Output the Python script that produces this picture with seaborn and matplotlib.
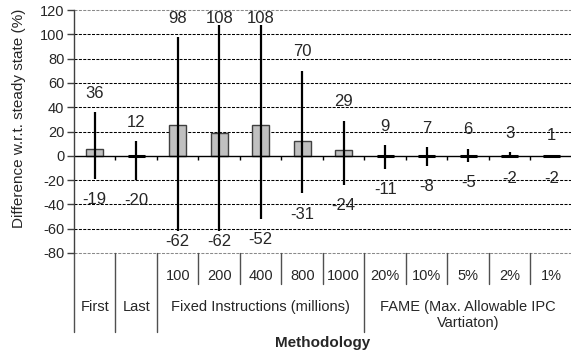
import matplotlib
matplotlib.use("Agg")
import matplotlib.pyplot as plt
import matplotlib.transforms as mtransforms
import numpy as np
import pandas as pd
import seaborn as sns

# Methodology columns (lower row) and their groups (upper row)
categories = ["First", "Last", "100", "200", "400", "800", "1000",
              "20%", "10%", "5%", "2%", "1%"]
column_labels = ["", "", "100", "200", "400", "800", "1000",
                 "20%", "10%", "5%", "2%", "1%"]
groups = ["First", "Last", "Fixed Instructions (millions)",
          "FAME (Max. Allowable IPC\nVartiaton)"]
group_sizes = [1, 1, 5, 5]

# Average, maximum and minimum difference w.r.t. steady state (%)
mean_diff = [6, 0, 25, 19, 25, 12, 5, 0, 0, 0, 0, 0]
max_diff = [36, 12, 98, 108, 108, 70, 29, 9, 7, 6, 3, 1]
min_diff = [-19, -20, -62, -62, -52, -31, -24, -11, -8, -5, -2, -2]

yticks = [-80, -60, -40, -20, 0, 20, 40, 60, 80, 100, 120]

sns.set_style("white")
plt.rcParams["font.family"] = ["Liberation Sans", "DejaVu Sans"]

W, H = 571, 352
fig = plt.figure(figsize=(W / 100, H / 100), dpi=100)
ax = fig.add_axes([74 / W, 1 - 253 / H, 498 / W, 243 / H])

BAR_W = 0.41
df = pd.DataFrame({"method": categories, "diff": mean_diff})
sns.barplot(data=df, x="method", y="diff", order=categories, ax=ax,
            color="#c0c0c0", saturation=1, width=BAR_W, errorbar=None,
            edgecolor="#404040", linewidth=1.0, zorder=2)

n = len(categories)
xpos = np.arange(n)
ax.set_xlim(-0.5, n - 0.5)
ax.set_ylim(-80, 120)

# Dashed horizontal grid, gray dashed frame at top and bottom
for y in yticks:
    if y == 0:
        continue
    edge = y in (yticks[0], yticks[-1])
    ax.axhline(y, color="#8a8a8a" if edge else "black", lw=0.75,
               linestyle=(0, (2.9, 1.3)), zorder=0.5, clip_on=False)
ax.axhline(0, color="black", lw=1.0, zorder=2.5)

# Small ticks under the zero line at the column boundaries
ax.vlines(xpos[1:] - 0.5, -3.5, 0, color="black", lw=1.0, zorder=2.5)

# Flat bars show up as a heavier dash on the zero line
flat = np.array(mean_diff) == 0
ax.hlines(np.array(mean_diff)[flat], xpos[flat] - BAR_W / 2,
          xpos[flat] + BAR_W / 2, color="black", lw=2.2, zorder=2.6)

# Range (min to max) lines
ax.vlines(xpos, min_diff, max_diff, color="black", lw=1.6, zorder=3)

# Value labels for the range ends
for x, hi, lo in zip(xpos, max_diff, min_diff):
    ax.text(x, min(hi + 15.5, 113), f"{hi}", ha="center", va="center",
            fontsize=12, zorder=4)
    ax.text(x, max(lo - 17, -70.5), f"{lo}", ha="center", va="center",
            fontsize=12, zorder=4)

# Axes styling
for side in ("top", "right", "bottom"):
    ax.spines[side].set_visible(False)
ax.spines["left"].set_color("#404040")
ax.spines["left"].set_linewidth(1.0)
ax.set_yticks(yticks)
ax.set_yticklabels([str(t) for t in yticks], fontsize=10.5)
ax.tick_params(axis="y", direction="out", length=5, width=1.0,
               color="#404040", pad=2, left=True)
ax.set_xticks([])
ax.set_xlabel("")
ax.set_ylabel("Difference w.r.t. steady state (%)", fontsize=11)
ax.yaxis.set_label_coords(-0.096, 0.553)

# Category table below the plot area
trans = mtransforms.blended_transform_factory(ax.transData, ax.transAxes)
row1_bottom = -31 / 243
table_bottom = -79 / 243
line_kw = dict(color="#505050", lw=1.0, transform=trans, clip_on=False)

for x, lab in zip(xpos, column_labels):
    if lab:
        ax.text(x, -23 / 243, lab, ha="center", va="center", fontsize=10.5,
                transform=trans, clip_on=False)

start = 0
bounds = [-0.5]
for g, size in zip(groups, group_sizes):
    center = start + (size - 1) / 2
    ax.text(center, -47 / 243, g, ha="center", va="top", fontsize=10.5,
            linespacing=1.2, transform=trans, clip_on=False)
    for k in range(1, size):
        b = start + k - 0.5
        ax.plot([b, b], [0, row1_bottom], **line_kw)
    start += size
    bounds.append(start - 0.5)

for b in bounds:
    ax.plot([b, b], [0, table_bottom], **line_kw)

ax.text(0.5, -89.5 / 243, "Methodology", ha="center", va="center",
        fontsize=11, fontweight="bold", transform=ax.transAxes)

fig.savefig("out.png", dpi=100)
